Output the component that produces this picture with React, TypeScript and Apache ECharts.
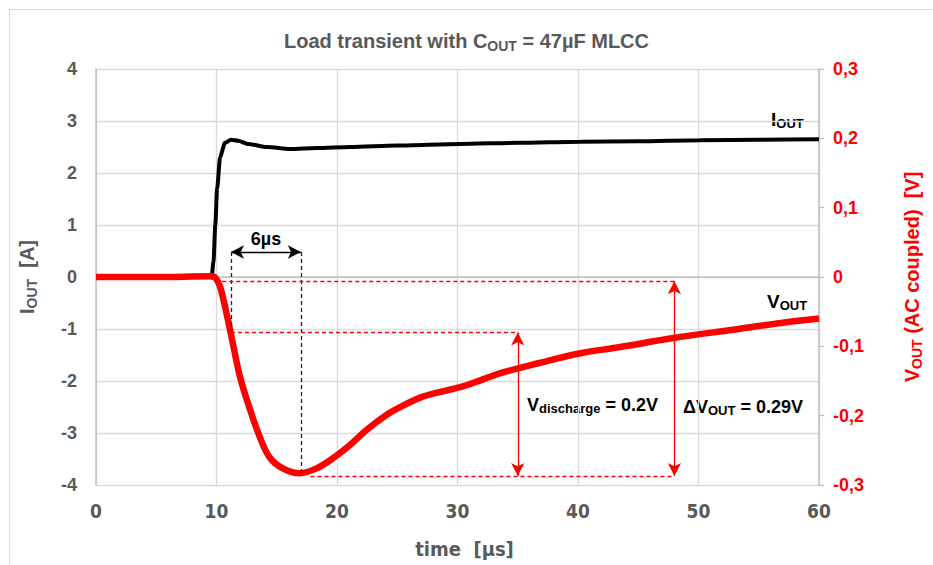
import React, { useEffect, useRef } from 'react';
import * as echarts from 'echarts';

// ---- data ----
const timeI = [0, 5, 9.6, 9.75, 9.9, 10.05, 10.3, 10.7, 11.2, 11.8, 12.6, 14.2, 16.1, 18.3, 21.1, 25, 30.2, 35, 40.2, 45, 50.1, 55, 60];
const iout = [0, 0, 0, 0.3, 1.0, 1.7, 2.31, 2.58, 2.64, 2.62, 2.56, 2.5, 2.46, 2.48, 2.5, 2.53, 2.56, 2.58, 2.6, 2.61, 2.63, 2.64, 2.65];

const timeV = [0, 5, 9.5, 9.9, 10.3, 10.9, 11.3, 11.95, 12.8, 13.6, 14.4, 15.5, 16.9, 18.3, 19.7, 21.1, 22.5, 24.1, 25.2, 26.9, 28.5, 30.2, 31.9, 33.5, 36.8, 40.2, 43.5, 47.9, 52.9, 57, 60];
const vout = [0, 0, 0.001, -0.001, -0.014, -0.058, -0.091, -0.144, -0.192, -0.231, -0.26, -0.276, -0.283, -0.276, -0.261, -0.242, -0.22, -0.199, -0.188, -0.174, -0.166, -0.159, -0.149, -0.139, -0.124, -0.11, -0.101, -0.088, -0.076, -0.066, -0.06];

// annotation anchors [time µs, V]
const tA = 11.2;     // start of 6µs span
const tB = 17.0;     // minimum of VOUT
const tC = 35;       // Vdischarge arrow
const tD = 48;       // ΔVOUT arrow
const vArrow6 = 0.036;
const vTop = -0.006;
const vMid = -0.08;
const vMin = -0.287;

const GRAY = '#595959';
const RED = '#ff0000';
const FONT = '"Liberation Sans", Arial, Helvetica, sans-serif';
const NARROW = '"Liberation Sans Narrow", "Arial Narrow", "DejaVu Sans Condensed", "Liberation Sans", sans-serif';

function seg(a: number[], b: number[], color: string, type: any, arrowA: boolean, arrowB: boolean) {
  const ls = { color, type, width: 1.3 };
  return [
    { coord: a, symbol: arrowA ? 'arrow' : 'none', lineStyle: ls },
    { coord: b, symbol: arrowB ? 'arrow' : 'none', lineStyle: ls },
  ];
}

export default function App() {
  const ref = useRef<HTMLDivElement>(null);
  useEffect(() => {
    const chart = echarts.init(ref.current!, null, { renderer: 'svg' });
    const sub = (size: number, color: string) => ({ fontSize: size, fontWeight: 'bold', color, fontFamily: FONT, verticalAlign: 'bottom', lineHeight: size });
    const main = (size: number, color: string, lh: number) => ({ fontSize: size, fontWeight: 'bold', color, fontFamily: FONT, lineHeight: lh });
    const option: any = {
      animation: false,
      backgroundColor: '#fff',
      title: {
        text: '{a|Load transient with C}{s|OUT}{a| = 47µF MLCC}',
        left: 'center',
        top: 24,
        textStyle: { rich: { a: main(20, GRAY, 24), s: sub(14, GRAY) } },
      },
      grid: { left: 96, right: 114, top: 69, bottom: 80 },
      xAxis: {
        type: 'value', min: 0, max: 60, interval: 10,
        name: 'time  [µs]', nameLocation: 'middle', nameGap: 54,
        nameTextStyle: { color: GRAY, fontSize: 20, fontWeight: 'bold', fontFamily: NARROW, padding: [0, 0, 0, 14] },
        axisLine: { show: true, lineStyle: { color: '#bfbfbf', width: 1.5 } },
        axisTick: { show: false },
        axisLabel: { color: GRAY, fontSize: 19, fontWeight: 'bold', fontFamily: NARROW, margin: 16 },
        splitLine: { show: true, lineStyle: { color: '#d9d9d9', width: 1.3 } },
      },
      yAxis: [
        {
          type: 'value', min: -4, max: 4, interval: 1, position: 'left',
          name: '{a|I}{s|OUT}{a|  [A]}', nameLocation: 'middle', nameRotate: 90, nameGap: 57,
          nameTextStyle: { rich: { a: main(20, GRAY, 24), s: sub(14, GRAY) } },
          axisLine: { show: true, lineStyle: { color: '#bfbfbf', width: 1.5 } },
          axisTick: { show: false },
          axisLabel: { color: GRAY, fontSize: 18, fontWeight: 'bold', fontFamily: FONT, margin: 19 },
          splitLine: { show: true, lineStyle: { color: '#d9d9d9', width: 1.3 } },
        },
        {
          type: 'value', min: -0.3, max: 0.3, interval: 0.1, position: 'right',
          name: '{a|V}{s|OUT}{a| (AC coupled)  [V]}', nameLocation: 'middle', nameRotate: 90, nameGap: 81,
          nameTextStyle: { rich: { a: main(20, RED, 24), s: sub(14, RED) } },
          axisLine: { show: true, lineStyle: { color: '#bfbfbf', width: 1.5 } },
          axisTick: { show: true, length: 5, inside: false, lineStyle: { color: '#bfbfbf', width: 1.3 } },
          axisLabel: {
            color: RED, fontSize: 18, fontWeight: 'bold', fontFamily: FONT, margin: 14,
            formatter: (v: number) => { const r = Math.round(v * 10) / 10; return r === 0 ? '0' : String(r).replace('.', ','); },
          },
          splitLine: { show: false },
        },
      ],
      series: [
        {
          type: 'line', name: 'IOUT', yAxisIndex: 0,
          data: timeI.map((t, i) => [t, iout[i]]),
          symbol: 'none', smooth: 0.25, smoothMonotone: 'x',
          lineStyle: { color: '#000', width: 4 }, z: 2,
        },
        {
          type: 'line', name: 'VOUT', yAxisIndex: 1,
          data: timeV.map((t, i) => [t, vout[i]]),
          symbol: 'none', smooth: 0.35,
          lineStyle: { color: RED, width: 6.5 }, z: 3,
          markLine: {
            silent: true, symbol: ['none', 'none'], symbolSize: [10, 13],
            label: { show: false }, emphasis: { disabled: true }, animation: false,
            data: [
              seg([tA, vArrow6], [tB, vArrow6], '#000', 'solid', true, true),
              seg([tA, vArrow6], [tA, vMid], '#222', [4, 3], false, false),
              seg([tB, vArrow6], [tB, vMin + 0.004], '#222', [4, 3], false, false),
              seg([9.9, vTop], [tD, vTop], RED, [4, 3], false, false),
              seg([tA, vMid], [tC, vMid], RED, [4, 3], false, false),
              seg([17.8, vMin], [tD, vMin], RED, [4, 3], false, false),
              seg([tC, vMid], [tC, vMin], RED, 'solid', true, true),
              seg([tD, vTop], [tD, vMin], RED, 'solid', true, true),
            ],
          },
        },
      ],
      graphic: [
        { type: 'rect', shape: { x: 9.5, y: 9.5, width: 1000, height: 1000 }, style: { fill: 'none', stroke: '#d9d9d9', lineWidth: 1 }, silent: true, z: -10 },
        { type: 'text', x: 266, y: 239, style: { text: '6µs', font: `bold 18px ${FONT}`, fill: '#000', align: 'center', verticalAlign: 'middle' } },
        { type: 'text', x: 527, y: 405, style: { text: '{a|V}{s|discharge}{a| = 0.2V}', rich: { a: main(18, RED, 20), s: sub(13, RED) }, align: 'left', verticalAlign: 'middle' } },
        { type: 'text', x: 683, y: 407, style: { text: '{a|ΔV}{s|OUT}{a| = 0.29V}', rich: { a: main(18, RED, 20), s: sub(13, RED) }, align: 'left', verticalAlign: 'middle' } },
        { type: 'text', x: 767, y: 301, style: { text: '{a|V}{s|OUT}', rich: { a: main(19, RED, 21), s: sub(13, RED) }, align: 'left', verticalAlign: 'middle' } },
        { type: 'text', x: 771, y: 119, style: { text: '{a|I}{s|OUT}', rich: { a: main(19, '#000', 21), s: sub(13, '#000') }, align: 'left', verticalAlign: 'middle' } },
      ],
    };
    chart.setOption(option);
    return () => chart.dispose();
  }, []);
  return <div ref={ref} style={{ position: 'fixed', left: 0, top: 0, width: 933, height: 565, background: '#fff' }} />;
}
